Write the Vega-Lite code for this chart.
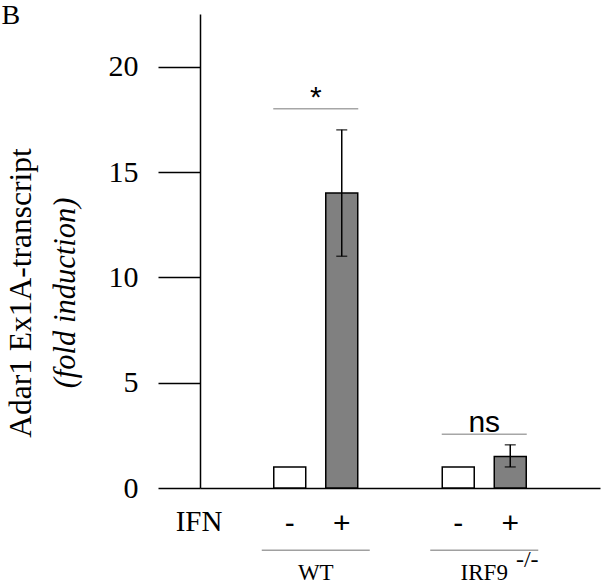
{
  "$schema": "https://vega.github.io/schema/vega-lite/v6.json",
  "width": 400,
  "height": 474,
  "autosize": {"type": "none"},
  "padding": {"left": 200, "top": 14, "right": 1, "bottom": 96},
  "background": "white",
  "config": {"view": {"stroke": null}},
  "title": {
    "text": "Adar1 Ex1A-transcript",
    "subtitle": "(fold induction)",
    "orient": "left",
    "anchor": "middle",
    "frame": "group",
    "font": "Liberation Serif",
    "fontSize": 31.5,
    "fontWeight": "normal",
    "color": "black",
    "subtitleFont": "Liberation Serif",
    "subtitleFontSize": 30.5,
    "subtitleFontStyle": "italic",
    "subtitleColor": "black",
    "subtitlePadding": 13,
    "offset": -80,
    "dx": -42
  },
  "datasets": {
    "bars": [
      {"group": "WT", "ifn": "-", "value": 1},
      {"group": "WT", "ifn": "+", "value": 14, "lo": 11, "hi": 17},
      {"group": "IRF9", "ifn": "-", "value": 1},
      {"group": "IRF9", "ifn": "+", "value": 1.5, "lo": 1.0, "hi": 2.05}
    ],
    "sig": [
      {"group": "WT", "level": 18, "label": "*"},
      {"group": "IRF9", "level": 2.55, "label": "ns"}
    ],
    "sup": [
      {"group": "IRF9", "sup": "-/-"}
    ]
  },
  "layer": [
    {
      "data": {"name": "bars"},
      "mark": {"type": "bar", "stroke": "black", "strokeWidth": 1.5},
      "encoding": {
        "x": {
          "field": "group", "type": "nominal",
          "scale": {"domain": ["WT", "IRF9"], "paddingInner": 0.2, "paddingOuter": 0.287},
          "axis": {
            "title": "B",
            "titleFont": "Liberation Serif", "titleFontSize": 28, "titleFontWeight": "normal", "titleColor": "black",
            "titleAngle": 0, "titleAlign": "left", "titleBaseline": "alphabetic",
            "titleX": -199, "titleY": -465,
            "labelAngle": 0,
            "labelFont": "Liberation Serif", "labelFontSize": 23, "labelColor": "black",
            "labelPadding": 73, "labelBaseline": "top",
            "ticks": false,
            "domainColor": "black", "domainWidth": 1.5
          }
        },
        "xOffset": {
          "field": "ifn", "type": "nominal",
          "scale": {"domain": ["-", "+"], "paddingInner": 0.385, "paddingOuter": 0.4885}
        },
        "y": {
          "field": "value", "type": "quantitative",
          "scale": {"domain": [0, 22.5], "nice": false},
          "axis": {
            "values": [0, 5, 10, 15, 20],
            "title": "IFN",
            "titleFont": "Liberation Serif", "titleFontSize": 29, "titleFontWeight": "normal", "titleColor": "black",
            "titleAngle": 0, "titleAlign": "center", "titleBaseline": "middle",
            "titleX": -1.5, "titleY": 507,
            "grid": false,
            "tickSize": 42, "tickWidth": 1.5, "tickColor": "black",
            "labelFont": "Liberation Serif", "labelFontSize": 30, "labelColor": "black",
            "labelPadding": 20,
            "domainColor": "black", "domainWidth": 1.5
          }
        },
        "fill": {
          "field": "ifn", "type": "nominal",
          "scale": {"domain": ["-", "+"], "range": ["#ffffff", "#808080"]},
          "legend": null
        }
      }
    },
    {
      "data": {"name": "bars"},
      "transform": [{"filter": "isValid(datum.hi)"}],
      "mark": {"type": "rule", "color": "black", "strokeWidth": 1.5},
      "encoding": {
        "x": {"field": "group", "type": "nominal"},
        "xOffset": {"field": "ifn", "type": "nominal"},
        "y": {"field": "lo", "type": "quantitative"},
        "y2": {"field": "hi"}
      }
    },
    {
      "data": {"name": "bars"},
      "transform": [{"filter": "isValid(datum.hi)"}],
      "mark": {"type": "tick", "color": "black", "thickness": 1.5, "size": 11, "orient": "horizontal"},
      "encoding": {
        "x": {"field": "group", "type": "nominal"},
        "xOffset": {"field": "ifn", "type": "nominal"},
        "y": {"field": "hi", "type": "quantitative"}
      }
    },
    {
      "data": {"name": "bars"},
      "transform": [{"filter": "isValid(datum.hi)"}],
      "mark": {"type": "tick", "color": "black", "thickness": 1.5, "size": 11, "orient": "horizontal"},
      "encoding": {
        "x": {"field": "group", "type": "nominal"},
        "xOffset": {"field": "ifn", "type": "nominal"},
        "y": {"field": "lo", "type": "quantitative"}
      }
    },
    {
      "data": {"name": "sig"},
      "mark": {"type": "tick", "color": "#808080", "thickness": 1.5, "size": 85, "orient": "horizontal"},
      "encoding": {
        "x": {"field": "group", "type": "nominal"},
        "y": {"field": "level", "type": "quantitative"}
      }
    },
    {
      "data": {"name": "sig"},
      "mark": {"type": "text", "font": "Liberation Sans", "fontSize": 30, "color": "black", "baseline": "alphabetic", "dy": -2},
      "encoding": {
        "x": {"field": "group", "type": "nominal"},
        "y": {"field": "level", "type": "quantitative"},
        "text": {"field": "label"}
      }
    },
    {
      "data": {"name": "bars"},
      "mark": {"type": "text", "font": "Liberation Sans", "fontSize": 30, "color": "black", "baseline": "middle", "clip": false},
      "encoding": {
        "x": {"field": "group", "type": "nominal"},
        "xOffset": {"field": "ifn", "type": "nominal"},
        "y": {"datum": -1.7, "type": "quantitative"},
        "text": {"field": "ifn"}
      }
    },
    {
      "data": {"name": "sig"},
      "mark": {"type": "tick", "color": "#777777", "thickness": 1.5, "size": 108, "orient": "horizontal", "clip": false},
      "encoding": {
        "x": {"field": "group", "type": "nominal"},
        "y": {"datum": -2.96, "type": "quantitative"}
      }
    },
    {
      "data": {"name": "sup"},
      "mark": {"type": "text", "font": "Liberation Serif", "fontSize": 24, "color": "black", "baseline": "middle", "dx": 43, "clip": false},
      "encoding": {
        "x": {"field": "group", "type": "nominal"},
        "y": {"datum": -3.4, "type": "quantitative"},
        "text": {"field": "sup"}
      }
    }
  ]
}
